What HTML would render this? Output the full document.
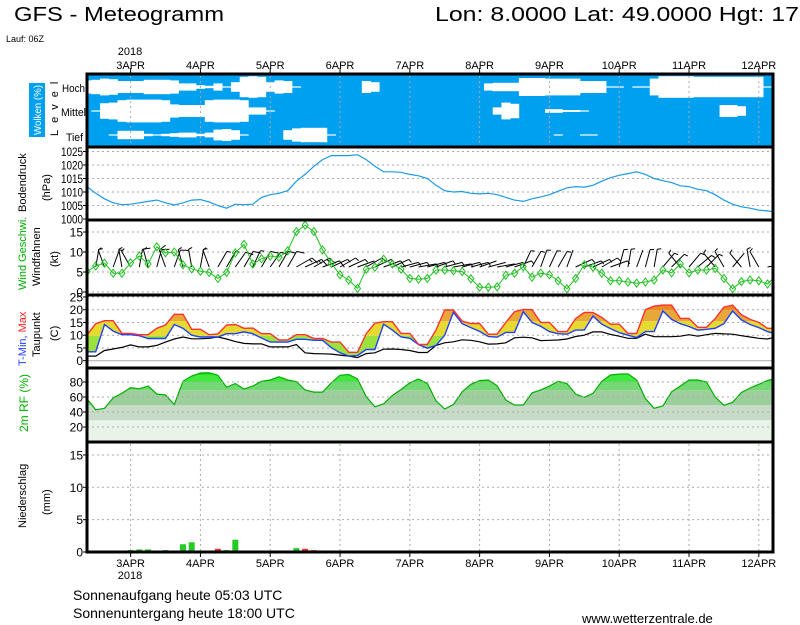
<!DOCTYPE html>
<html><head><meta charset="utf-8"><style>
html,body{margin:0;padding:0;background:#fff;}
svg{display:block;font-family:"Liberation Sans",sans-serif;}
</style></head><body>
<svg id="chart" width="800" height="625" viewBox="0 0 800 625" xmlns="http://www.w3.org/2000/svg">
<text x="14" y="21" font-size="20" textLength="210" lengthAdjust="spacingAndGlyphs">GFS - Meteogramm</text>
<text x="435" y="21" font-size="20" textLength="364" lengthAdjust="spacingAndGlyphs">Lon: 8.0000 Lat: 49.0000 Hgt: 17</text>
<text x="6" y="42" font-size="9">Lauf: 06Z</text>
<text x="130" y="55" font-size="11" text-anchor="middle">2018</text>
<text x="130" y="579" font-size="11" text-anchor="middle">2018</text>
<text x="73" y="600" font-size="14">Sonnenaufgang heute 05:03 UTC</text>
<text x="73" y="618" font-size="14">Sonnenuntergang heute 18:00 UTC</text>
<text x="582" y="623" font-size="13">www.wetterzentrale.de</text>

<rect x="29" y="83" width="16" height="54" fill="#00a0f0"/>
<text transform="translate(41,135) rotate(-90)" font-size="10" fill="#fff" textLength="50" lengthAdjust="spacingAndGlyphs">Wolken (%)</text>
<text transform="translate(58,136) rotate(-90)" font-size="11" letter-spacing="7">Level</text>
<text x="62" y="92" font-size="11" textLength="23" lengthAdjust="spacingAndGlyphs">Hoch</text>
<text x="61" y="116" font-size="11" textLength="25" lengthAdjust="spacingAndGlyphs">Mittel</text>
<text x="66" y="141" font-size="11" textLength="17" lengthAdjust="spacingAndGlyphs">Tief</text>
<text transform="translate(26,212) rotate(-90)" font-size="11">Bodendruck</text>
<text transform="translate(50,201) rotate(-90)" font-size="11">(hPa)</text>
<text transform="translate(26,290) rotate(-90)" font-size="11" fill="#00b000">Wind Geschwi.</text>
<text transform="translate(40,286) rotate(-90)" font-size="11">Windfahnen</text>
<text transform="translate(58,267) rotate(-90)" font-size="11">(kt)</text>
<text transform="translate(26,366) rotate(-90)" font-size="11"><tspan fill="#2040ff">T-Min, </tspan><tspan fill="#ff2020">Max</tspan></text>
<text transform="translate(40,357) rotate(-90)" font-size="11">Taupunkt</text>
<text transform="translate(58,341) rotate(-90)" font-size="11">(C)</text>
<text transform="translate(28,432) rotate(-90)" font-size="12" fill="#00b000">2m RF (%)</text>
<text transform="translate(26,528) rotate(-90)" font-size="11">Niederschlag</text>
<text transform="translate(50,515) rotate(-90)" font-size="11">(mm)</text>
<g id="plot"></g>
</svg>
<script>
const days=['3APR','4APR','5APR','6APR','7APR','8APR','9APR','10APR','11APR','12APR'];
const pressure=[1012,1009.5,1007.5,1006,1005.3,1005.5,1006,1006.5,1007,1006,1005.2,1006,1007,1007.2,1006.3,1005,1004,1005.5,1005.3,1005.5,1008,1009,1009.5,1010.5,1014,1016.5,1019.5,1022,1023.5,1023.5,1023.5,1023.8,1022,1019.5,1017.5,1017.5,1017.3,1016.5,1016,1015,1012.5,1010.5,1010,1010.2,1009.5,1009.3,1009.5,1009,1008,1007,1006.5,1007.5,1008.2,1009,1010.3,1011.5,1012,1011.8,1012.5,1014,1015.3,1016.2,1016.8,1017.5,1016.5,1015,1014.2,1013.5,1012.3,1012,1011,1010.5,1009,1007,1005.5,1004.5,1004,1003.3,1003,1002.5];
const windSpeed=[5.1,6.5,7.2,4.7,4.7,7.3,9,7,11.3,9.8,10,6.8,5.8,5.2,4.9,3.4,4.9,9.8,11.9,7,8.3,9,8.7,10.3,15.1,16.7,15.1,10.5,7.2,4.3,3,0.9,5.7,6.2,8.2,7,5.7,3.4,3.2,3.4,5.5,5.5,5.3,5.1,3.3,1.2,1.2,1.3,4.2,4.7,6.3,3.7,4.7,4.3,2.8,0.8,3.4,6.8,6.2,4.7,2.8,2.8,2.5,2.2,2.5,3,5.5,4.8,7,4.8,5.5,5.5,5.9,3.4,0.8,2.6,3,2.8,2,4.2];
const windDir=[350,10,340,20,350,330,10,345,15,340,20,345,350,10,340,30,30,35,30,25,30,35,30,30,60,65,60,70,65,60,65,70,60,65,70,65,75,75,80,75,70,75,80,75,75,70,75,80,75,70,25,30,20,25,30,20,65,70,65,60,70,15,10,20,15,10,40,45,320,40,50,45,320,330,40,320,350,330,80,70];
const tMax=[10.1,14.5,15.7,15.7,10.7,10.7,10.2,10.2,12.7,14,18.2,18.2,12.3,12.3,10.2,10.5,14,14.2,12.7,12.8,10.6,10.6,8.1,8.2,10.2,10.2,8.7,8.7,7.3,7.3,3.3,3.3,10.6,14.7,15.3,15.3,10.7,10.7,6.4,6.4,12,19.9,19.9,15.5,14.6,14.6,10.4,10.4,15,19.2,20.1,20,15,15,11.4,11.4,16.5,18.9,18.9,17,14.3,14.3,10.7,10.7,20,21.4,21.8,21.8,16.6,16.6,13.1,13.1,16.5,21,21.8,18,16.2,15,12.7,12.7];
const tMin=[3.5,3.5,14.2,11.6,10.2,10.2,9.8,8.7,8.7,8.7,14.2,12.7,10,9.3,9.3,9.3,10.6,10.6,11.3,10.6,8.9,7.3,7.3,7.3,8.4,8.4,8,8,5.1,3.1,1.8,2,4.4,4.4,14.3,12,9.3,8.8,6.3,4.9,6,10,19,14.5,13,11.5,9.5,9.2,11.1,11.1,19.2,15,13.5,11.4,10.6,10.4,12,12,17.5,14.3,12.6,11,10,9.1,11.4,11.4,19.5,16.2,14.5,13.4,12,12.3,12.7,14.5,19.5,16,14.2,13,11.4,10.4];
const dewPoint=[1.8,1.8,4,4.6,5.2,6.2,5.4,5.4,6,7.3,8.5,9.3,8.6,8.6,8.8,9.3,8.5,7.5,6.8,6.6,6.6,5.4,5.4,5.4,6.3,3.1,2.8,2.7,2.6,2.2,1.8,1.2,2.8,3.1,4.5,4.6,4.4,4,3.2,3.2,6,7,7.4,8.2,8,7.4,6.5,6.6,7,9,9.2,9,7.9,8,8.1,8.5,9.5,10,11.3,11.3,10.3,9.6,8.8,8.8,10.4,9.4,9.4,9.4,9.6,10.2,9.6,10.2,10.7,10.5,10.4,9.8,9.3,8.8,8.5,9.4];
const relHum=[57.8,43,45,59,64.9,72.5,71,74.7,64,62.7,50,81,88,92,92.4,89,72.9,78,70.5,74.5,81,82.7,87,82.7,80.4,69.5,66.5,66.5,79,89,90,84,60.4,47,51,62,70,79,84,78,55,44,50,67,77,81.8,82.7,75,56,49.3,49.3,65.5,69.5,74.5,81,78,64,59.6,65,81,89.3,90.5,91,82.7,58,44.9,48,67,74.5,82.7,82.7,80,60,49,53,66,72,77,82,85];
const precipIdx=[5,6,7,9,11,12,15,16,17,20,24,25,26,57,61];
const precipLarge=[0.3,0.4,0.4,0.3,1.2,1.5,0.2,0.3,1.9,0,0.6,0.3,0,0,0];
const precipConv=[0,0,0,0,0,0,0.3,0,0,0.1,0,0.2,0.3,0.15,0.1];
const cloudHigh=[45,40,30,35,50,50,50,40,40,40,45,70,70,85,90,70,95,60,15,10,15,60,45,50,95,100,100,100,100,100,100,100,50,60,100,100,100,100,100,100,100,100,100,100,100,100,70,65,65,65,25,25,25,30,30,30,30,50,50,50,95,95,100,95,95,30,10,10,10,10,15,15,15,15,15,15,15,15,95,100];
const cloudMid=[100,95,35,30,10,5,5,5,5,10,45,50,50,50,10,5,5,5,10,70,70,95,100,100,100,100,100,100,100,100,100,100,100,100,100,100,100,100,100,100,100,100,100,100,100,100,100,70,30,40,100,100,100,85,85,92,92,95,100,100,100,100,100,100,100,100,100,100,100,100,100,100,100,50,50,60,100,100,100,100];
const cloudLow=[100,100,100,95,65,65,65,90,95,90,85,80,80,90,80,55,50,60,95,100,100,100,100,60,45,40,40,40,95,100,100,100,100,100,100,100,100,100,100,100,100,100,100,100,100,100,100,100,100,100,100,100,100,100,95,100,100,95,95,100,100,100,100,100,100,100,100,100,100,100,100,100,100,100,100,100,100,100,100,100];
const pressureTicks=[1000,1005,1010,1015,1020,1025];
const windTicks=[0,5,10,15];
const tempTicks=[0,5,10,15,20,25];
const rhTicks=[20,40,60,80];
const precipTicks=[0,5,10,15];

const NS='http://www.w3.org/2000/svg';
const X0=87,X1=773,DX=8.725;
const xs=i=>X0+i*DX;
const dayX=k=>xs(5+8*k);
const yP=v=>219-(v-1000)*2.7;
const yW=v=>292-v*4;
const yT=v=>360.7-v*2.55;
const yR=v=>442-v*0.75;
const yN=v=>552-v*6.47;
const plot=document.getElementById('plot');
function mk(tag,attrs,parent){const e=document.createElementNS(NS,tag);for(const k in attrs)e.setAttribute(k,attrs[k]);(parent||plot).appendChild(e);return e;}
const defs=mk('defs',{});
const cp=mk('clipPath',{id:'plotclip'},defs);
mk('rect',{x:X0,y:70,width:X1-X0,height:490},cp);
function poly(arr,fy){return arr.map((v,i)=>xs(i).toFixed(1)+','+fy(v).toFixed(1)).join(' ');}

// clouds
const cg=mk('g',{'clip-path':'url(#plotclip)'});


mk('rect',{x:X0,y:74,width:X1-X0,height:73,fill:'#00a0f0'},cg);
const levels=[[cloudHigh,87,'cloud-high'],[cloudMid,111,'cloud-mid'],[cloudLow,135,'cloud-low']];
levels.forEach(([arr,cy,nm])=>{arr.forEach((c,i)=>{const h=(1-c/100)*24;if(h<=0)return;
 const r=mk('rect',{x:xs(i)-DX/2,y:cy-Math.max(h,1)/2,width:DX+0.3,height:Math.max(h,1),fill:'#fff'},cg);
 
 });});

// vertical day lines
days.forEach((d,k)=>{const x=dayX(k);
 mk('line',{x1:x,y1:76,x2:x,y2:146,stroke:'#aaa','stroke-dasharray':'2,3'});
 mk('line',{x1:x,y1:444,x2:x,y2:551,stroke:'#aaa','stroke-dasharray':'2,3'});
 mk('line',{x1:x,y1:68,x2:x,y2:74,stroke:'#000'});
 mk('line',{x1:x,y1:552,x2:x,y2:557,stroke:'#000'});
 mk('line',{x1:x,y1:439,x2:x,y2:442,stroke:'#888'});
 const t1=mk('text',{x:x,y:69,'font-size':11,'text-anchor':'middle'});t1.textContent=d;
 
 
 const t2=mk('text',{x:x,y:567,'font-size':11,'text-anchor':'middle'});t2.textContent=d;
 
 
});
function hgrid(ticks,fy,dash,color){ticks.forEach(v=>{const y=fy(v);
 mk('line',{x1:X0,y1:y,x2:X1,y2:y,stroke:color||'#aaa','stroke-dasharray':dash});
 const t=mk('text',{x:83,y:y+4.5,'font-size':12,'text-anchor':'end'});t.textContent=v;
 if(String(v).length>=4){t.setAttribute('textLength','22');t.setAttribute('lengthAdjust','spacingAndGlyphs');}
 
 
 mk('line',{x1:X0-4,y1:y,x2:X0,y2:y,stroke:'#000'});});}

// RH fill bands
const rcp=mk('clipPath',{id:'rhclip'},defs);
mk('polygon',{points:xs(0)+','+yR(0)+' '+poly(relHum,yR)+' '+xs(relHum.length-1)+','+yR(0)},rcp);
const rhg=mk('g',{'clip-path':'url(#rhclip)'});


[[0,29,'#e9f4e9'],[29,49,'#c8dac8'],[49,69,'#9ccf9c'],[69,80,'#74d874'],[80,90,'#40e840'],[90,101,'#00dd00']].forEach(([a,b,c])=>{
 mk('rect',{x:X0,y:yR(b),width:X1-X0,height:yR(a)-yR(b),fill:c},rhg);});
const rl=mk('polyline',{points:poly(relHum,yR),fill:'none',stroke:'#00b000','stroke-width':1.2,'clip-path':'url(#plotclip)'});



// grids
hgrid(pressureTicks,yP,'2,3');
hgrid(windTicks,yW,'2,3');
hgrid(tempTicks.filter(v=>v>0),yT,'2,3');
hgrid([0],yT,null,'#aaa');
hgrid(rhTicks,yR,'2,3');
hgrid(precipTicks.filter(v=>v>0),yN,'2,3');
hgrid([0],yN,'2,3');

// pressure
const pl=mk('polyline',{points:poly(pressure,yP),fill:'none',stroke:'#1a9ae8','stroke-width':1.2,'clip-path':'url(#plotclip)'});



// temperature fill
const tcp=mk('clipPath',{id:'tclip'},defs);
mk('polygon',{points:poly(tMax,yT)+' '+tMin.map((v,i)=>i).reverse().map(i=>xs(i).toFixed(1)+','+yT(tMin[i]).toFixed(1)).join(' ')},tcp);
const tg=mk('g',{'clip-path':'url(#tclip)'});


[[-10,9.8,'#9be23c'],[9.8,15.5,'#e6da30'],[15.5,19.8,'#e8a838'],[19.8,30,'#e88a28']].forEach(([a,b,c])=>{
 mk('rect',{x:X0,y:yT(b),width:X1-X0,height:yT(a)-yT(b),fill:c},tg);});
const dl=mk('polyline',{points:poly(dewPoint,yT),fill:'none',stroke:'#000','stroke-width':1.2,'clip-path':'url(#plotclip)'});


const bl=mk('polyline',{points:poly(tMin,yT),fill:'none',stroke:'#2040ff','stroke-width':1.4,'clip-path':'url(#plotclip)'});


const red=mk('polyline',{points:poly(tMax,yT),fill:'none',stroke:'#ff3030','stroke-width':1.4,'clip-path':'url(#plotclip)'});



// wind barbs
const wg=mk('g',{stroke:'#000','stroke-width':1,'clip-path':'url(#plotclip)'});


windDir.forEach((d,i)=>{const a=d*Math.PI/180,L=18,x=xs(i),y=267;
 const ex=x+Math.sin(a)*L,ey=y-Math.cos(a)*L;
 mk('line',{x1:x,y1:y,x2:ex,y2:ey},wg);
 let s=windSpeed[i],pos=0;
 while(s>=2.5){const full=s>=7.5;const bl2=full?8:4;
  const px=ex-Math.sin(a)*pos*3,py=ey+Math.cos(a)*pos*3;
  const b=a+Math.PI/2.5;
  mk('line',{x1:px,y1:py,x2:px+Math.sin(b)*bl2,y2:py-Math.cos(b)*bl2},wg);
  s-=full?10:5;pos++;}
});
// wind speed
const wl=mk('polyline',{points:poly(windSpeed,yW),fill:'none',stroke:'#20c020','stroke-width':1,'clip-path':'url(#plotclip)'});


windSpeed.forEach((v,i)=>{const x=xs(i),y=yW(v);
 const m=mk('polygon',{points:`${x},${y-4} ${x+3},${y} ${x},${y+4} ${x-3},${y}`,fill:'none',stroke:'#20c020','clip-path':'url(#plotclip)'});
 
 });

// precip
precipIdx.forEach((idx,k)=>{const x=xs(idx)-3;
 if(precipLarge[k]>0){const r=mk('rect',{x:x,y:yN(precipLarge[k]),width:6,height:yN(0)-yN(precipLarge[k]),fill:'#22cc22'});
  
  }
 if(precipConv[k]>0){const top=yN(precipLarge[k]+precipConv[k]);const r=mk('rect',{x:x,y:top,width:6,height:Math.max(2,yN(precipLarge[k])-top),fill:'#ff3030'});
  
  }
});

// panel borders
[[74,147],[147,220],[220,295],[295,368],[368,442],[442,552]].forEach(([a,b])=>{
 mk('rect',{x:X0,y:a,width:X1-X0,height:b-a,fill:'none',stroke:'#000','stroke-width':3});});
</script>
</body></html>
